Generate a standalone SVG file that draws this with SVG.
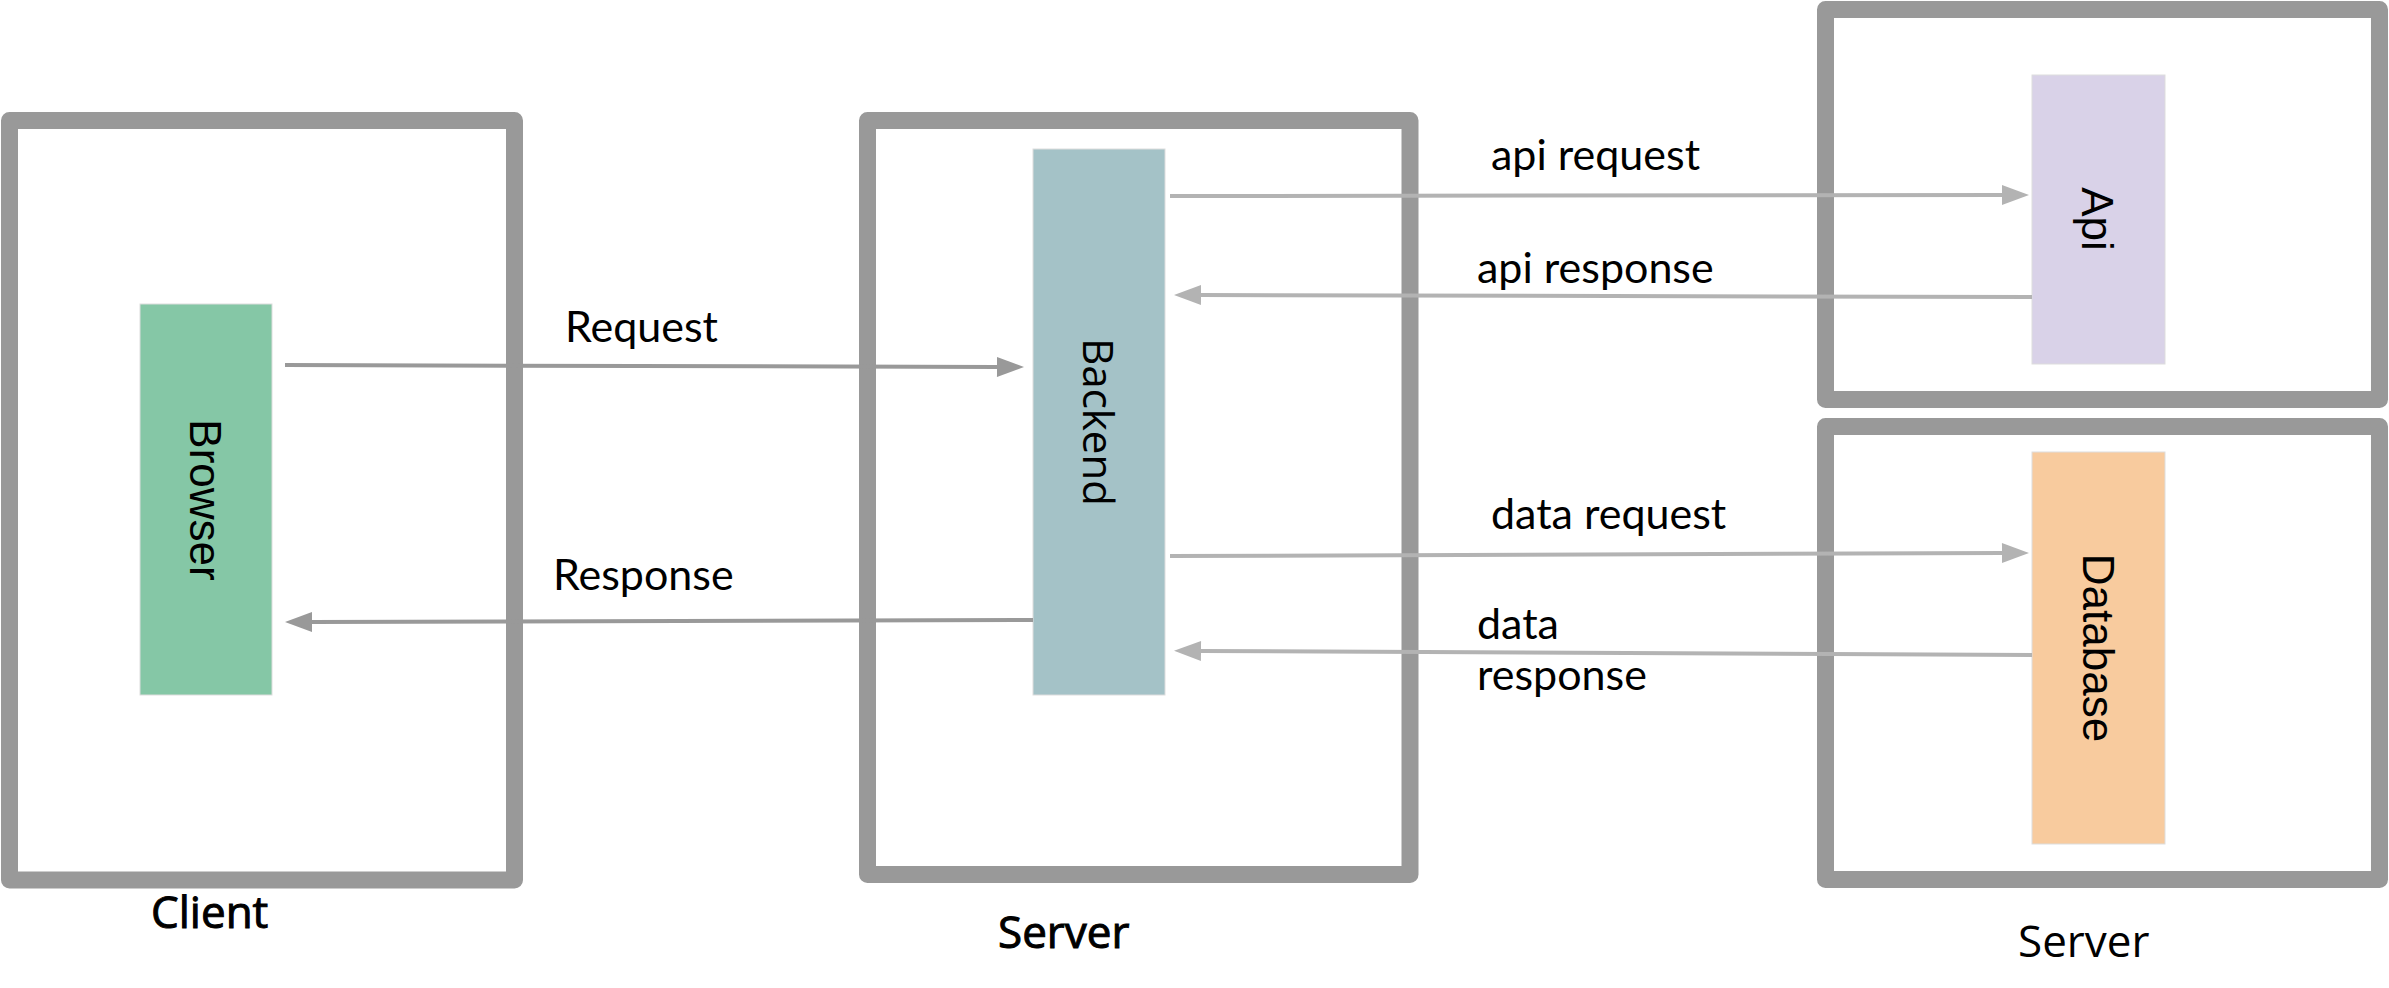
<svg xmlns="http://www.w3.org/2000/svg" width="2389" height="988" viewBox="0 0 2389 988">
  <style>
    .box { fill: #ffffff; stroke: #999999; stroke-width: 17; stroke-linejoin: round; }
    .node { stroke: #dddddd; stroke-width: 1; }
    .ntext { font-family: "Liberation Sans", Arial, sans-serif; font-size: 44px; fill: #000000; text-anchor: middle; }
    .btext { font-family: "Open Sans", "Noto Sans", sans-serif; font-size: 42px; fill: #000000; text-anchor: middle; }
    .cap { font-family: "Open Sans", "Noto Sans", sans-serif; font-size: 44px; fill: #000000; }
    .semi { stroke: #000000; stroke-width: 1; }
    .lbl { font-family: Lato, "Open Sans", sans-serif; font-size: 43px; fill: #000000; }
    .dark { stroke: #999999; stroke-width: 4; fill: none; }
    .light { stroke: #b3b3b3; stroke-width: 4; fill: none; }
  </style>
  <defs>
    <marker id="headDark" markerUnits="userSpaceOnUse" markerWidth="28" markerHeight="22" refX="0" refY="10" orient="auto" overflow="visible">
      <path d="M0,0 L27,10 L0,20 Z" fill="#999999"/>
    </marker>
    <marker id="headLight" markerUnits="userSpaceOnUse" markerWidth="28" markerHeight="22" refX="0" refY="10" orient="auto" overflow="visible">
      <path d="M0,0 L27,10 L0,20 Z" fill="#b3b3b3"/>
    </marker>
  </defs>

  <g id="client">
    <rect class="box" x="9.5" y="120.5" width="505" height="759.5"/>
    <text class="cap semi" x="151" y="928">Client</text>
  </g>
  <g id="server-backend">
    <rect class="box" x="867.5" y="120.5" width="542.5" height="754"/>
    <text class="cap semi" x="998" y="948">Server</text>
  </g>
  <g id="server-api">
    <rect class="box" x="1825.5" y="9.5" width="554" height="390"/>
  </g>
  <g id="server-db">
    <rect class="box" x="1825.5" y="426.5" width="554" height="453"/>
    <text class="cap" x="2018" y="957">Server</text>
  </g>

  <g id="browser">
    <rect class="node" x="140" y="304" width="132" height="391" fill="#85c7a6"/>
    <text class="ntext" transform="translate(190,500) rotate(90)">Browser</text>
  </g>
  <g id="backend">
    <rect class="node" x="1033" y="149" width="132" height="546" fill="#a4c2c7"/>
    <text class="btext" transform="translate(1083,422) rotate(90)">Backend</text>
  </g>
  <g id="api">
    <rect class="node" x="2032" y="75" width="133" height="289" fill="#d9d2e8"/>
    <text class="ntext" transform="translate(2082,219) rotate(90)">Api</text>
  </g>
  <g id="database">
    <rect class="node" x="2032" y="452" width="133" height="392" fill="#f8cb9e"/>
    <text class="ntext" transform="translate(2083,648) rotate(90)">Database</text>
  </g>

  <g id="connectors">
    <line class="dark" x1="285" y1="365" x2="997" y2="367" marker-end="url(#headDark)"/>
    <line class="dark" x1="1033" y1="620" x2="312" y2="622" marker-end="url(#headDark)"/>
    <line class="light" x1="1170" y1="196" x2="2002" y2="195" marker-end="url(#headLight)"/>
    <line class="light" x1="2032" y1="297" x2="1201" y2="295" marker-end="url(#headLight)"/>
    <line class="light" x1="1170" y1="556" x2="2002" y2="553" marker-end="url(#headLight)"/>
    <line class="light" x1="2032" y1="655" x2="1201" y2="651" marker-end="url(#headLight)"/>
    <text class="lbl" x="565" y="342">Request</text>
    <text class="lbl" x="553" y="590">Response</text>
    <text class="lbl" x="1491" y="170">api request</text>
    <text class="lbl" x="1477" y="283">api response</text>
    <text class="lbl" x="1491" y="529">data request</text>
    <text class="lbl" x="1477" y="639">data</text>
    <text class="lbl" x="1477" y="690">response</text>
  </g>
</svg>
